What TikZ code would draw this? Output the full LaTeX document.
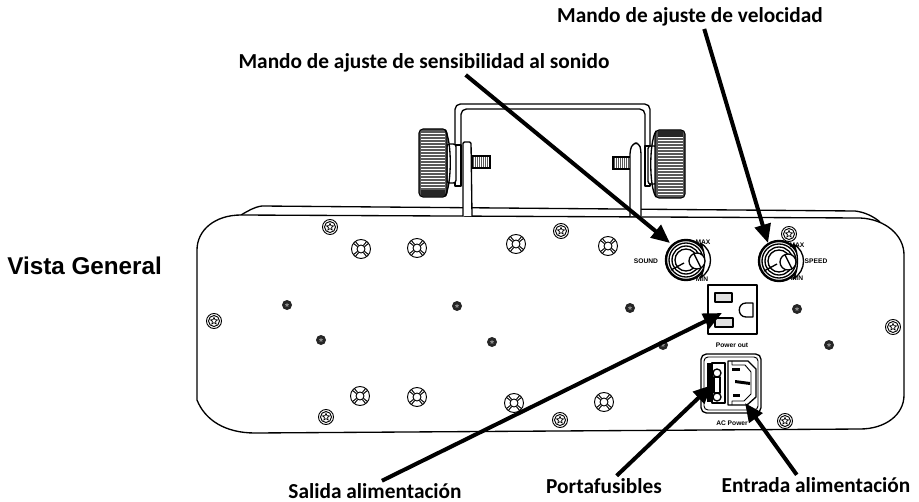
\documentclass[tikz,border=0pt]{standalone}
\usepackage{fontspec}
\setmainfont{Carlito}
\newfontfamily\arialfont{Liberation Sans}
\usetikzlibrary{arrows.meta,shapes.geometric}
\tikzstyle{callout}=[draw=none,inner sep=0pt,outer sep=2pt,font=\fontsize{16}{18}\selectfont\bfseries]
\tikzstyle{tinylabel}=[inner sep=0pt,font=\arialfont\fontsize{5}{5}\selectfont\bfseries]
\tikzstyle{pointer}=[line width=3pt,-{Triangle[length=14pt,width=12pt]}]
\tikzstyle{outline}=[line width=1pt,line join=round]
\tikzstyle{thin line}=[line width=0.7pt,line join=round]
\tikzstyle{knurl}=[draw=black,fill=black!65,line width=0.8pt,rounded corners=3pt]
\tikzset{
  bigscrew/.pic={
    \draw[thin line] (0,0) circle (7.5);
    \draw[thin line] (0,0) circle (5.5);
    \node[star,star points=5,star point ratio=2.2,draw,line width=0.5pt,minimum size=5.5pt,inner sep=0pt] {};
  },
  smallscrew/.pic={
    \fill[black!85] (0,0) circle (5);
    \node[star,star points=5,star point ratio=2.2,fill=black!45,minimum size=3.5pt,inner sep=0pt] {};
  },
  ringscrew/.pic={
    \draw[thin line] (0,0) circle (9.5);
    \draw[thin line] (0,0) circle (4);
    \foreach \a in {45,135,225,315}
      \draw[thin line] (\a-12:4.2) -- (\a-8:9.2) (\a+12:4.2) -- (\a+8:9.2);
  }
}
\begin{document}
\begin{tikzpicture}[x=0.75pt,y=-0.75pt]
  \path[use as bounding box] (0,0) rectangle (919,502);

  % bracket
  \draw[outline,rounded corners=4pt] (455,183) -- (455,104) -- (650,104) -- (650,184) -- (645,184)
        -- (645,109) -- (461,109) -- (461,183) -- cycle;
  \draw[outline,fill=white] (455,145) rectangle (461,186);
  \draw[outline,fill=white] (645,146) rectangle (650,186);
  % left wheel
  \draw[outline,fill=white,rounded corners=2pt] (447,144) rectangle (456,183);
  \draw[knurl] (419,129) rectangle (447,197);
  \foreach \y in {133,136,...,190}
    \draw[white,line width=0.5pt] (421,\y) -- (445,\y);
  \fill[black!85] (421,190) rectangle (445,196);
  \draw[outline] (445,130) .. controls (452,140) and (452,185) .. (445,196);
  % right wheel
  \draw[outline,fill=white,rounded corners=2pt] (648,146) rectangle (657,184);
  \draw[knurl] (655,130) rectangle (685,198);
  \foreach \y in {137,140,...,194}
    \draw[white,line width=0.5pt] (658,\y) -- (683,\y);
  \fill[black!85] (658,131) rectangle (683,137);
  \draw[outline] (656,131) .. controls (649,142) and (649,187) .. (656,197);
  % bolts
  \draw[knurl,rounded corners=0pt] (472,156) rectangle (490,168);
  \foreach \x in {474,476,...,488}
    \draw[white,line width=0.3pt] (\x,157) -- (\x,167);
  \draw[knurl,rounded corners=0pt] (613,157) rectangle (633,169);
  \foreach \x in {615,617,...,631}
    \draw[white,line width=0.3pt] (\x,158) -- (\x,168);

  % housing
  \draw[outline] (241,215) .. controls (248,211) and (254,207) .. (262,206) -- (855,211)
        .. controls (864,212) and (873,216) .. (880,222);
  \draw[outline,fill=white] (197,250) .. controls (197,230) and (215,215) .. (241,215) -- (860,218)
        .. controls (885,219) and (904,235) .. (904,255) -- (904,395)
        .. controls (904,415) and (885,429) .. (860,429) -- (255,433)
        .. controls (225,433) and (205,420) .. (197,400) -- cycle;
  % bracket feet
  \draw[outline,fill=white,rounded corners=1pt] (463,216) -- (463,142) -- (471,142) -- (472,216);
  \draw[outline,fill=white,rounded corners=3pt] (630,216) -- (630,150) -- (633,143) -- (639,143) -- (641,150) -- (641,216);

  % screws
  \foreach \x/\y in {330/227,214/321,326/417,561/231,560/420,789/234,893/327,785/421}
    \pic at (\x,\y) {bigscrew};
  \foreach \x/\y in {287/305,321/340,457/306,492/342,630/308,663/345,797/309,829/345}
    \pic at (\x,\y) {smallscrew};
  \foreach \x/\y in {361/249,417/248,360/396,417/397,516/244,608/246,514/403,604/402}
    \pic at (\x,\y) {ringscrew};

  % sound knob
  \draw[line width=1.8pt] (686,260) circle (20);
  \draw[line width=1pt] (686,260) circle (17);
  \draw[line width=1pt] (686,260) circle (14);
  \draw[line width=1pt] (686,260) circle (11);
  \draw[outline,fill=white] (700,243) .. controls (706,250) and (706,270) .. (700,278)
        .. controls (714,270) and (714,250) .. (700,243);
  \draw[line width=1pt,fill=white] (697,261) circle (8);
  \draw[line width=1pt] (694,254) -- (701,268);
  \draw[line width=1pt] (671,270) -- (684,263);
  \node[tinylabel] (soundtext) at (646,261) {SOUND};
  \node[tinylabel] (soundmax) at (703,242) {MAX};
  \node[tinylabel] (soundmin) at (702,279) {MIN};

  % speed knob
  \draw[line width=1.8pt] (779,261) circle (20);
  \draw[line width=1pt] (779,261) circle (17);
  \draw[line width=1pt] (779,261) circle (14);
  \draw[line width=1pt] (779,261) circle (11);
  \draw[outline,fill=white] (793,244) .. controls (799,251) and (799,271) .. (793,279)
        .. controls (807,271) and (807,251) .. (793,244);
  \draw[line width=1pt,fill=white] (788,262) circle (8);
  \draw[line width=1pt] (785,255) -- (792,269);
  \draw[line width=1pt] (764,271) -- (777,264);
  \node[tinylabel] (speedtext) at (816,261) {SPEED};
  \node[tinylabel] (speedmax) at (797,245) {MAX};
  \node[tinylabel] (speedmin) at (797,278) {MIN};

  % outlet
  \draw[outline] (708,285) rectangle (757,334);
  \draw[outline,fill=black!12] (715,293) rectangle (732,302);
  \draw[outline,fill=black!12] (715,318) rectangle (733,327);
  \draw[outline] (746,303) -- (753,303) -- (753,317) -- (746,317) .. controls (737,317) and (737,303) .. cycle;
  \node[tinylabel] (outtext) at (732,345) {Power out};

  % inlet
  \draw[outline,rounded corners=4pt] (701,354) rectangle (761,413);
  \draw[thin line,rounded corners=3pt] (704,357) rectangle (758,410);
  \draw[outline] (712,363) rectangle (725,403);
  \fill (707,363) rectangle (712,402);
  \draw[outline] (714,377) rectangle (720,393);
  \draw[outline] (717,373) circle (4);
  \draw[outline] (717,397) circle (4);
  \draw[outline] (728,361) -- (748,361) -- (756,369) -- (756,397) -- (747,405) -- (728,405) -- cycle;
  \draw[thin line] (732,361) -- (732,365) -- (745,365) -- (751,372) -- (751,394) -- (744,401) -- (732,401) -- (732,405);
  \fill (732,368) rectangle (740,371);
  \fill (735,380) -- (750,382) -- (750,385) -- (735,383) -- cycle;
  \fill (733,394) rectangle (740,397);
  \node[tinylabel] (actext) at (732,423) {AC Power};

  % texts
  \node[font=\arialfont\fontsize{18.2}{20}\selectfont\bfseries,anchor=west,inner sep=0pt] (title) at (7,266) {Vista General};
  \node[callout] (lblsound) at (424,63) {Mando de ajuste de sensibilidad al sonido};
  \node[callout] (lblspeed) at (690,17) {Mando de ajuste de velocidad};
  \node[callout] (lblout) at (375,491) {Salida alimentaci\'on};
  \node[callout] (lblfuse) at (604,486) {Portafusibles};
  \node[callout] (lblin) at (816,485) {Entrada alimentaci\'on};

  % tips of the pointers
  \coordinate (tipsound) at (670,243);
  \coordinate (tipspeed) at (768,243);
  \coordinate (tipout) at (722,313);
  \coordinate (tipfuse) at (712,385);
  \coordinate (tipin) at (745,403);

  \draw[pointer] (lblsound.-16.5) -- (tipsound);
  \draw[pointer] (lblspeed.-40) -- (tipspeed);
  \draw[pointer] (lblout.56) -- (tipout);
  \draw[pointer] (lblfuse.39) -- (tipfuse);
  \draw[pointer] (lblin.152) -- (tipin);
\end{tikzpicture}
\end{document}
